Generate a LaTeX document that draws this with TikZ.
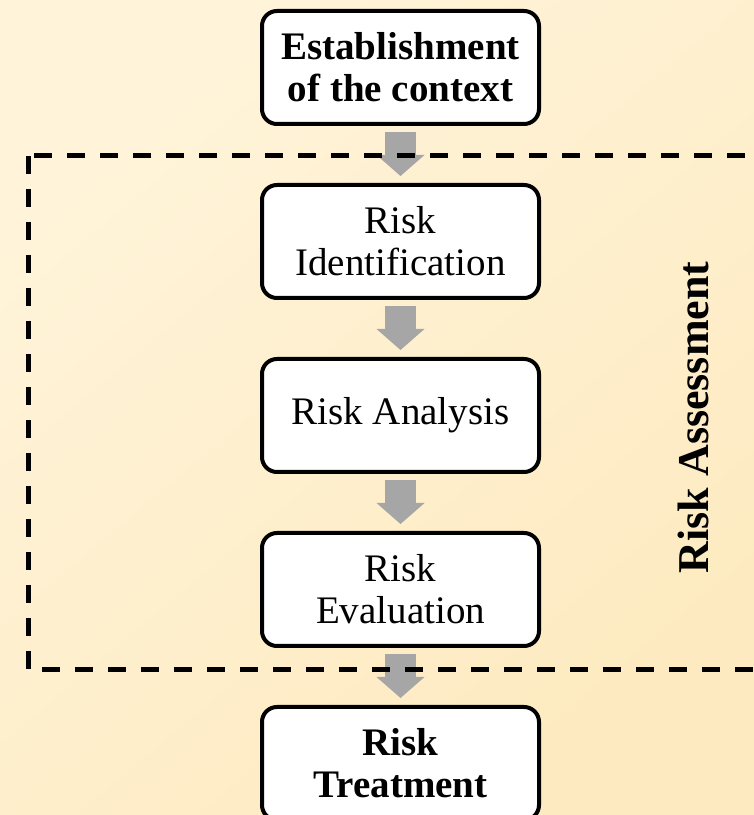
\documentclass[tikz,border=0pt]{standalone}
\usepackage{fontspec}
\setmainfont{Liberation Serif}
\usepackage{tikz}
\usetikzlibrary{positioning,arrows.meta}
\definecolor{paperLight}{HTML}{FFF4DA}
\definecolor{paperDeep}{HTML}{FDEAC0}
\definecolor{flowGray}{HTML}{A6A6A6}

\tikzset{
  stage/.style={draw=black, line width=4pt, fill=white, rounded corners=15pt,
    minimum width=277pt, minimum height=113pt, inner sep=0pt, outer sep=0pt,
    align=center, font=\fontsize{39}{42}\selectfont},
  flow/.style={draw=flowGray, line width=31pt,
    -{Triangle[width=48pt,length=21pt,line width=0pt]}, shorten <=8pt, shorten >=9pt},
  phase/.style={draw=black, line width=5pt, dash pattern=on 18pt off 15pt}
}

\begin{document}
\begin{tikzpicture}[x=1pt, y=1pt]
  \useasboundingbox (0,0) rectangle (754,815);
  \shade[top color=paperLight, bottom color=paperDeep, shading angle=40] (0,0) rectangle (754,815);

  % process steps
  \node[stage, font=\fontsize{39}{42}\selectfont\bfseries] (context) at (400.5,747.5) {Establishment\\of the context};
  \node[stage] (ident) [below=61pt of context] {Risk\\Identification};
  \node[stage] (analysis) [below=61pt of ident] {Risk Analysis};
  \node[stage] (evaluation) [below=61pt of analysis] {Risk\\Evaluation};
  \node[stage, font=\fontsize{39}{42}\selectfont\bfseries] (treatment) [below=61pt of evaluation] {Risk\\Treatment};

  \draw[flow] (context) -- (ident);
  \draw[flow] (ident) -- (analysis);
  \draw[flow] (analysis) -- (evaluation);
  \draw[flow] (evaluation) -- (treatment);

  % assessment frame
  \draw[phase] (28,659) rectangle (780,145);
  \node[rotate=90, font=\fontsize{44}{46}\selectfont\bfseries] (assess) at (693,397.5) {Risk Assessment};
\end{tikzpicture}
\end{document}
